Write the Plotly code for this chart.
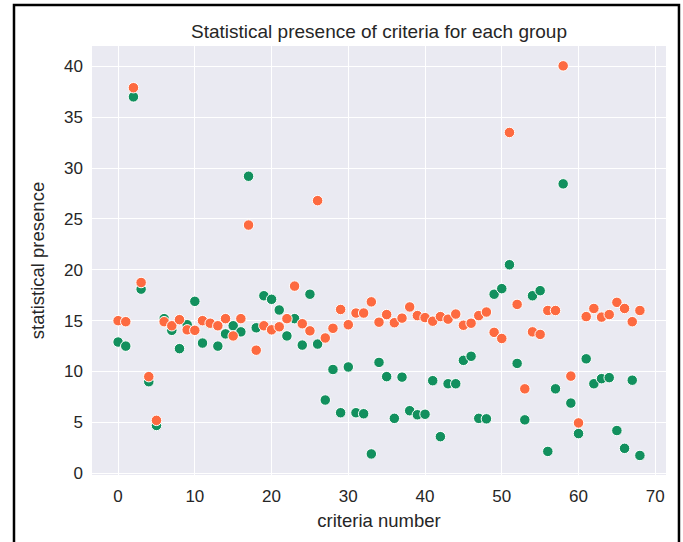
import plotly.graph_objects as go

criteria = list(range(69))

group_green = [12.9, 12.5, 37.0, 18.1, 9.0, 4.7, 15.2, 14.05, 12.25, 14.6,
               16.9, 12.8, 14.7, 12.5, 13.7, 14.5, 13.9, 29.2, 14.3, 17.45,
               17.1, 16.05, 13.5, 15.2, 12.6, 17.6, 12.7, 7.2, 10.2, 5.95,
               10.45, 5.95, 5.85, 1.9, 10.9, 9.5, 5.4, 9.45, 6.15, 5.75,
               5.8, 9.1, 3.6, 8.8, 8.8, 11.1, 11.5, 5.4, 5.35, 17.6,
               18.15, 20.5, 10.8, 5.25, 17.45, 17.95, 2.15, 8.3, 28.45, 6.9,
               3.9, 11.25, 8.8, 9.3, 9.4, 4.2, 2.45, 9.15, 1.75]

group_orange = [15.0, 14.9, 37.9, 18.75, 9.5, 5.2, 14.9, 14.5, 15.1, 14.1,
                14.05, 15.0, 14.75, 14.5, 15.2, 13.5, 15.2, 24.4, 12.1, 14.5,
                14.1, 14.4, 15.2, 18.4, 14.7, 14.0, 26.8, 13.3, 14.25, 16.1,
                14.6, 15.75, 15.75, 16.85, 14.85, 15.6, 14.8, 15.25, 16.35, 15.5,
                15.3, 14.95, 15.4, 15.15, 15.65, 14.55, 14.75, 15.5, 15.85, 13.85,
                13.25, 33.5, 16.6, 8.3, 13.9, 13.65, 16.0, 16.0, 40.05, 9.55,
                4.95, 15.4, 16.2, 15.35, 15.6, 16.8, 16.2, 14.9, 16.0]

x_ticks = [0, 10, 20, 30, 40, 50, 60, 70]
y_ticks = [0, 5, 10, 15, 20, 25, 30, 35, 40]

GREEN = "#12905e"
ORANGE = "#fd6a40"
FONT = "Liberation Sans, Arial, sans-serif"
TXT = "#262626"

fig = go.Figure()
fig.add_trace(go.Scatter(
    x=criteria, y=group_green, mode="markers", name="group 1",
    marker=dict(size=10.5, color=GREEN, line=dict(color="white", width=1)),
))
fig.add_trace(go.Scatter(
    x=criteria, y=group_orange, mode="markers", name="group 2",
    marker=dict(size=10.5, color=ORANGE, line=dict(color="white", width=1)),
))

fig.update_layout(
    width=683, height=542,
    margin=dict(l=92, r=17, t=46, b=67),
    paper_bgcolor="white",
    plot_bgcolor="#EAEAF2",
    showlegend=False,
    font=dict(family=FONT, color=TXT, size=17),
    title=dict(text="Statistical presence of criteria for each group",
               x=0.5, xref="paper", xanchor="center",
               y=1, yref="paper", yanchor="bottom", pad=dict(b=8),
               font=dict(family=FONT, size=19, color=TXT)),
    xaxis=dict(range=[-3.4, 71.4], tickvals=x_ticks, showgrid=True,
               gridcolor="white", gridwidth=1.3, zeroline=False,
               showline=False, ticks="", ticklabelstandoff=9,
               tickfont=dict(size=17),
               title=dict(text="criteria number", font=dict(size=18.5), standoff=9)),
    yaxis=dict(range=[-0.17, 42.0], tickvals=y_ticks, showgrid=True,
               gridcolor="white", gridwidth=1.3, zeroline=False,
               showline=False, ticks="", ticklabelstandoff=8,
               tickfont=dict(size=17),
               title=dict(text="statistical presence", font=dict(size=18.5), standoff=14)),
    shapes=[dict(type="rect", xref="paper", yref="paper",
                 x0=-0.1359, x1=1.0226, y0=-0.25, y1=1.0956,
                 line=dict(color="black", width=2.5), fillcolor="rgba(0,0,0,0)",
                 layer="above")],
)

fig.write_html("out.html", config={"displayModeBar": False},
               post_script="document.body.style.margin='0';document.body.style.overflow='hidden';")
